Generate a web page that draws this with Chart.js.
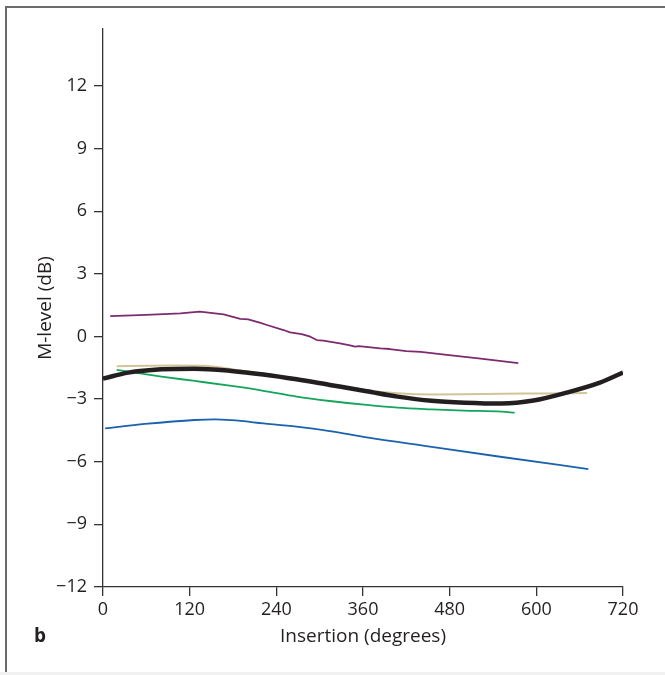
<!DOCTYPE html>
<html>
<head>
<meta charset="utf-8">
<script src="https://cdn.jsdelivr.net/npm/chart.js@4/dist/chart.umd.min.js"></script>
<style>
  html, body { margin: 0; padding: 0; background: #fff; }
  #wrap { position: relative; width: 665px; height: 675px; overflow: hidden; }
  #frame { position: absolute; left: 5px; top: 6px; width: 720px; height: 720px; border: 2px solid #6a6a6a; box-sizing: border-box; }
  #strip { position: absolute; left: 0; top: 672px; width: 665px; height: 3px; background: #f1f1f1; }
  #panel { position: absolute; left: 34px; top: 622px; font: bold 19px "Open Sans", "DejaVu Sans", sans-serif; color: #231f20; }
  canvas { position: absolute; left: 0; top: 0; }
</style>
</head>
<body>
<div id="wrap">
  <div id="frame"></div>
  <div id="strip"></div>
  <canvas id="c" width="665" height="675"></canvas>
  <div id="panel">b</div>
</div>
<script>
// ---- data ----
const xTicks = [0, 120, 240, 360, 480, 600, 720];
const yTicks = [-12, -9, -6, -3, 0, 3, 6, 9, 12];

const purpleX = [10, 60, 107, 134, 167, 176, 190, 201, 217, 227, 250, 259, 275, 287, 296, 305, 328, 342, 349, 354, 384, 397, 420, 440, 476, 520, 575];
const purpleY = [0.98, 1.04, 1.11, 1.19, 1.06, 0.98, 0.84, 0.82, 0.66, 0.55, 0.31, 0.20, 0.11, -0.01, -0.17, -0.20, -0.33, -0.42, -0.49, -0.46, -0.57, -0.60, -0.70, -0.74, -0.88, -1.05, -1.28];

const tanX = [19, 60, 100, 140, 180, 240, 300, 363, 408, 455, 500, 552, 610, 670];
const tanY = [-1.42, -1.40, -1.39, -1.40, -1.58, -1.87, -2.20, -2.56, -2.72, -2.78, -2.77, -2.74, -2.73, -2.71];

const greenX = [19, 81, 127, 178, 222, 268, 314, 365, 408, 455, 500, 552, 570];
const greenY = [-1.60, -1.92, -2.13, -2.37, -2.60, -2.88, -3.09, -3.28, -3.41, -3.49, -3.55, -3.60, -3.65];

const blueX = [3, 58, 127, 155, 178, 222, 268, 314, 365, 450, 550, 672];
const blueY = [-4.40, -4.19, -4.00, -3.97, -4.01, -4.16, -4.32, -4.53, -4.83, -5.26, -5.76, -6.35];

const fitX = [0, 35, 81, 127, 178, 222, 268, 314, 365, 408, 455, 501, 552, 596, 642, 688, 720];
const fitY = [-2.02, -1.73, -1.57, -1.54, -1.65, -1.82, -2.05, -2.32, -2.62, -2.88, -3.08, -3.17, -3.21, -3.07, -2.69, -2.21, -1.73];

const xTitle = 'Insertion (degrees)';
const yTitle = 'M-level (dB)';

// ---- build chart ----
const pts = (xs, ys) => xs.map((x, i) => ({ x: x, y: ys[i] }));
const FONT = '"Open Sans", "DejaVu Sans", sans-serif';
const TEXT = '#231f20';
const AXIS = '#333333';

function line(data, color, width, order, smooth) {
  return {
    data: data, borderColor: color, borderWidth: width, pointRadius: 0,
    fill: false, tension: smooth ? 0.3 : 0, cubicInterpolationMode: smooth ? 'monotone' : 'default',
    order: order, borderCapStyle: 'butt', borderJoinStyle: 'round'
  };
}

new Chart(document.getElementById('c'), {
  type: 'line',
  data: {
    datasets: [
      line(pts(fitX, fitY), '#231f20', 4.5, 0, true),
      line(pts(tanX, tanY), '#d2c497', 2, 1, true),
      line(pts(purpleX, purpleY), '#7d2a6f', 1.8, 2, false),
      line(pts(greenX, greenY), '#13a55a', 1.8, 3, true),
      line(pts(blueX, blueY), '#1b62ae', 1.8, 4, true)
    ]
  },
  options: {
    responsive: false,
    animation: false,
    events: [],
    layout: { padding: { left: 0, right: 42, top: 29, bottom: 0 } },
    plugins: { legend: { display: false }, tooltip: { enabled: false } },
    scales: {
      x: {
        type: 'linear', min: 0, max: 720,
        afterFit: s => { s.height = 88; },
        afterBuildTicks: s => { s.ticks = xTicks.map(v => ({ value: v })); },
        ticks: { color: TEXT, font: { family: FONT, size: 18 }, padding: 3, maxRotation: 0 },
        grid: { drawOnChartArea: false, drawTicks: true, tickLength: 9, color: AXIS, lineWidth: 1.3 },
        border: { display: true, color: AXIS, width: 1.3 },
        title: { display: true, text: xTitle, color: TEXT, font: { family: FONT, size: 19 }, padding: { top: 0, bottom: 27 } }
      },
      y: {
        type: 'linear', min: -12, max: 14.73,
        afterFit: s => { s.width = 103; },
        afterBuildTicks: s => { s.ticks = yTicks.map(v => ({ value: v })); },
        ticks: {
          color: TEXT, font: { family: FONT, size: 18 }, padding: 7,
          callback: v => String(v).replace('-', '\u2212')
        },
        grid: { drawOnChartArea: false, drawTicks: true, tickLength: 9, color: AXIS, lineWidth: 1.3 },
        border: { display: true, color: AXIS, width: 1.3 },
        title: { display: true, text: yTitle, color: TEXT, font: { family: FONT, size: 19 }, padding: { top: 34, bottom: 0 } }
      }
    }
  }
});
</script>
</body>
</html>
